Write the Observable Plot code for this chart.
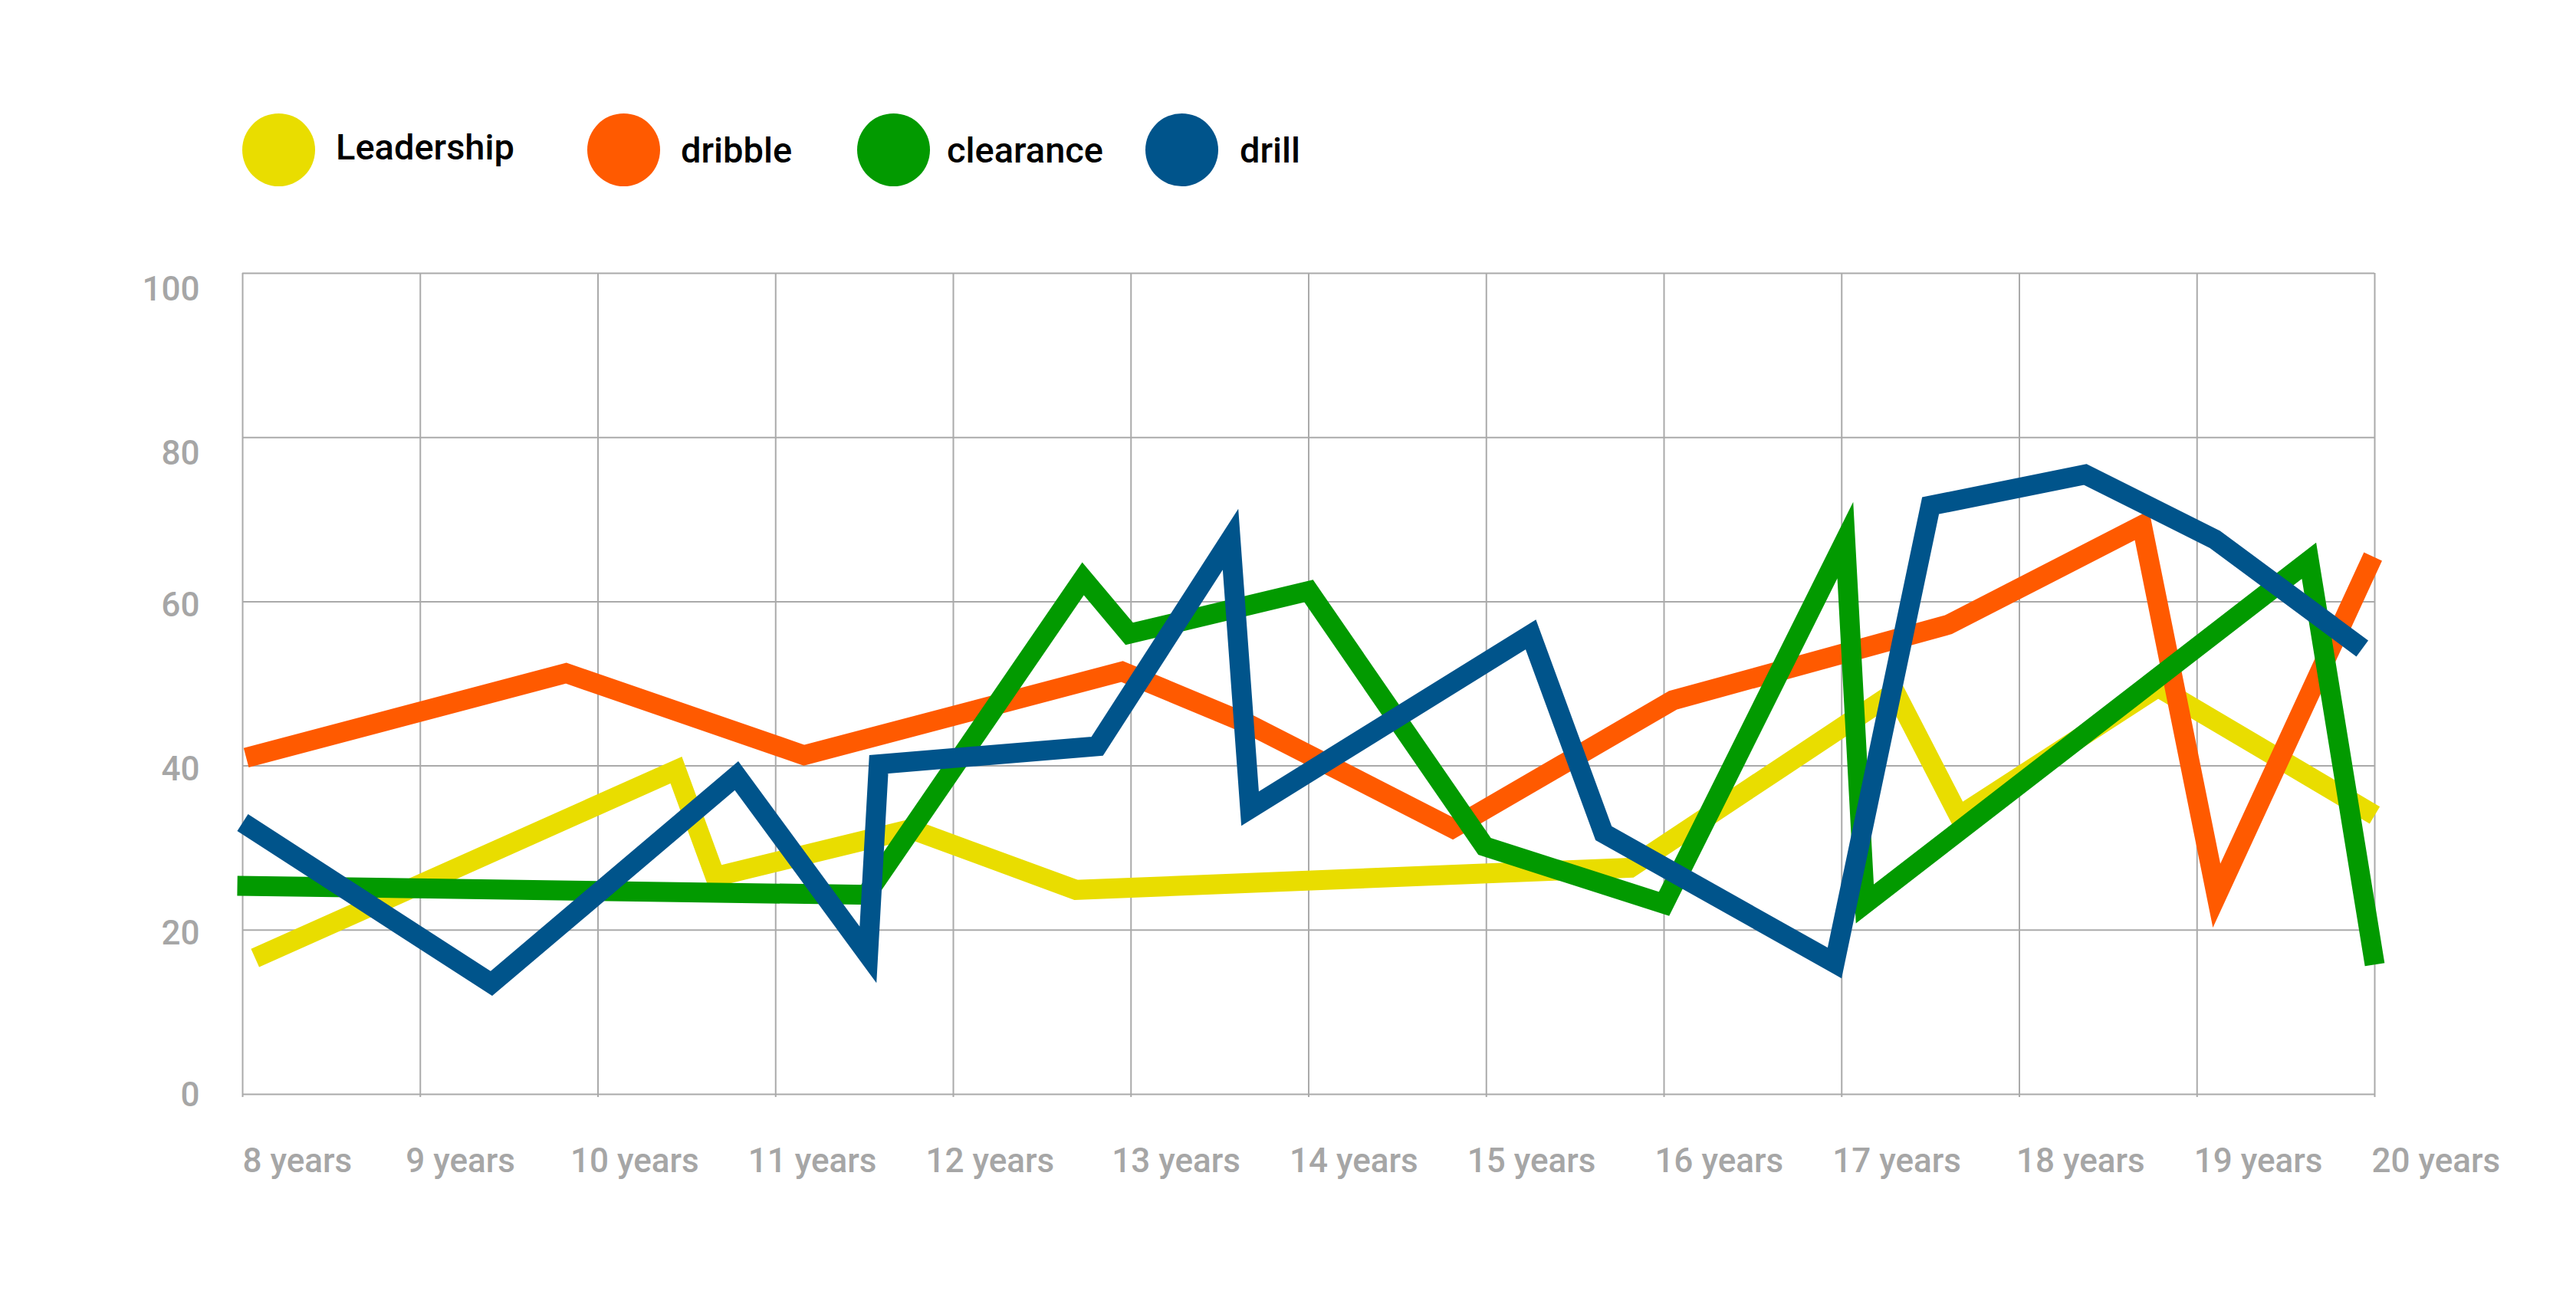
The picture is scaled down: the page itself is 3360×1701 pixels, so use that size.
<!DOCTYPE html>
<html>
<head>
<meta charset="utf-8">
<script src="https://cdn.jsdelivr.net/npm/d3@7"></script>
<script src="https://cdn.jsdelivr.net/npm/@observablehq/plot@0.6"></script>
<style>
  html, body { margin: 0; padding: 0; background: #ffffff; }
  body { width: 3360px; height: 1701px; overflow: hidden; font-family: Roboto, "Open Sans", sans-serif; }
  #legend { position: relative; width: 3360px; height: 300px; }
  .sw { position: absolute; width: 95px; height: 95px; border-radius: 50%; }
  .lb { position: absolute; font-size: 47px; font-weight: 500; line-height: 47px; color: #000; white-space: nowrap; }
  #chart svg { display: block; }
</style>
</head>
<body>
<div id="legend"></div>
<div id="chart"></div>
<script>
// ---- data ----
const seriesNames = ["Leadership", "dribble", "clearance", "drill"];
const seriesColors = ["#e9dd00", "#ff5a00", "#029a00", "#00548b"];

const leadershipX = [8.07, 10.44, 10.66, 11.76, 12.69, 15.81, 17.30, 17.66, 18.78, 20.00];
const leadershipY = [16.6, 39.5, 26.5, 32.3, 24.9, 27.6, 49.0, 33.9, 49.6, 34.0];

const dribbleX = [8.02, 9.82, 11.16, 12.95, 13.67, 14.81, 16.05, 17.60, 18.69, 19.11, 19.99];
const dribbleY = [41.0, 51.3, 41.3, 51.5, 45.0, 32.4, 48.0, 57.2, 69.3, 24.2, 65.5];

const clearanceX = [7.97, 11.51, 12.73, 12.99, 14.00, 14.99, 16.00, 17.02, 17.13, 19.63, 20.00];
const clearanceY = [25.4, 24.3, 62.8, 56.1, 61.3, 30.2, 23.2, 67.5, 23.2, 65.0, 15.8];

const drillX = [8.00, 9.40, 10.78, 11.52, 11.58, 12.81, 13.56, 13.67, 15.25, 15.66, 16.96, 17.50, 18.37, 19.10, 19.93];
const drillY = [33.1, 13.5, 38.8, 17.0, 40.2, 42.4, 67.6, 34.8, 56.0, 31.8, 16.0, 71.7, 75.5, 67.6, 54.3];

const yearTicks = [8, 9, 10, 11, 12, 13, 14, 15, 16, 17, 18, 19, 20];
const yearLabels = ["8 years", "9 years", "10 years", "11 years", "12 years", "13 years", "14 years",
                    "15 years", "16 years", "17 years", "18 years", "19 years", "20 years"];
const valueTicks = [0, 20, 40, 60, 80, 100];

// ---- build table ----
const seriesX = [leadershipX, dribbleX, clearanceX, drillX];
const seriesY = [leadershipY, dribbleY, clearanceY, drillY];
const rows = [];
seriesNames.forEach((name, s) => {
  seriesX[s].forEach((x, i) => rows.push({ series: name, x, y: seriesY[s][i] }));
});

// ---- legend (HTML, above the SVG) ----
const legend = document.getElementById("legend");
const legendLayout = [
  { cx: 363, tx: 438, ty: 168 },
  { cx: 813, tx: 888, ty: 172 },
  { cx: 1165, tx: 1235, ty: 172 },
  { cx: 1541, tx: 1617, ty: 172 }
];
seriesNames.forEach((name, i) => {
  const sw = document.createElement("div");
  sw.className = "sw";
  sw.style.left = (legendLayout[i].cx - 47.5) + "px";
  sw.style.top = (195 - 47.5) + "px";
  sw.style.background = seriesColors[i];
  legend.appendChild(sw);
  const lb = document.createElement("div");
  lb.className = "lb";
  lb.style.left = legendLayout[i].tx + "px";
  lb.style.top = legendLayout[i].ty + "px";
  lb.textContent = name;
  legend.appendChild(lb);
});

// ---- chart ----
const labelFor = d => yearLabels[yearTicks.indexOf(d)];
const tickGray = "#a6a6a6";
const xAxisText = (ticks, dx) => Plot.axisX(ticks, {
  tickSize: 0, tickPadding: 70, textAnchor: "start", tickFormat: labelFor,
  fontSize: 44, fontWeight: 500, color: tickGray, dx, label: null
});
const yAxisText = (ticks, dy) => Plot.axisY(ticks, {
  tickSize: 0, tickPadding: 56, fontSize: 44, fontWeight: 500, color: tickGray, dy, label: null
});

const chart = Plot.plot({
  width: 3360,
  height: 1401,
  marginTop: 56,
  marginBottom: 274,
  marginLeft: 316,
  marginRight: 263,
  style: { fontFamily: "Roboto, 'Open Sans', sans-serif", background: "#ffffff", overflow: "visible" },
  x: { type: "linear", domain: [8, 20] },
  y: { type: "linear", domain: [0, 100] },
  color: { domain: seriesNames, range: seriesColors },
  marks: [
    Plot.gridX(yearTicks, { stroke: "#aaaaaa", strokeOpacity: 1, strokeWidth: 2, insetBottom: -4 }),
    Plot.gridY(valueTicks, { stroke: "#aaaaaa", strokeOpacity: 1, strokeWidth: 2 }),
    xAxisText([8], 0),
    xAxisText([9], -19),
    xAxisText([10, 11, 12], -36),
    xAxisText([13, 14, 15], -25),
    xAxisText([16, 17], -12),
    xAxisText([18, 19, 20], -4),
    yAxisText([100, 80], 21),
    yAxisText([60, 40, 20], 5),
    yAxisText([0], 1),
    Plot.line(rows, {
      x: "x", y: "y", z: "series", stroke: "series",
      strokeWidth: 26, strokeLinejoin: "miter", strokeLinecap: "butt", strokeMiterlimit: 10
    })
  ]
});
document.getElementById("chart").appendChild(chart);
</script>
</body>
</html>
